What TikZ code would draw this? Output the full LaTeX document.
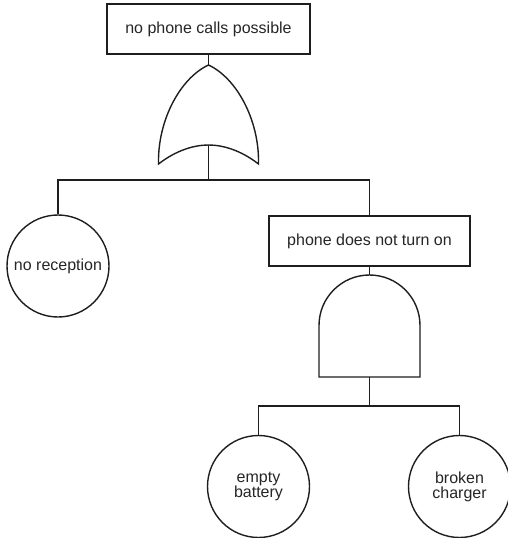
\documentclass[tikz,border=0pt]{standalone}
\usepackage{fontspec}
\setmainfont{Liberation Sans}
\definecolor{ink}{HTML}{1E1E1E}
\definecolor{txt}{HTML}{262626}
\begin{document}
\begin{tikzpicture}[x=1pt,y=-1pt,
  outline/.style={draw=ink, line width=1.4pt, fill=white},
  wire/.style={draw=ink, line width=1.6pt},
  evt/.style={outline, rectangle, minimum width=203pt, minimum height=50pt,
    inner sep=0pt, font=\fontsize{16}{15}\selectfont, text=txt},
  basic/.style={outline, circle, minimum size=102pt, inner sep=0pt,
    align=center, font=\fontsize{16}{15}\selectfont, text=txt}]
\useasboundingbox (0,0) rectangle (508,538);

% events
\node[evt] (top) at (208.5,29) {no phone calls possible};
\node[evt, minimum width=201pt] (pto) at (369.5,241) {phone does not turn on};
\node[basic] (rec) at (58,266) {no reception};
\node[basic] (bat) at (258.5,486.5) {empty\\battery};
\node[basic] (chg) at (459.5,486.5) {broken\\charger};

% OR gate
\coordinate (orTip) at (208.5,65);
\coordinate (orIn) at (208.5,145);
\coordinate (orBus) at (208.5,180);
\path[outline] (158.5,164) .. controls (157.5,120) and (180.5,78) .. (orTip)
  .. controls (236.5,78) and (259.5,120) .. (258.5,164)
  .. controls (240.5,150) and (222.5,145) .. (orIn)
  .. controls (194.5,145) and (176.5,150) .. (158.5,164) -- cycle;

% AND gate
\coordinate (andTip) at (369.5,275);
\coordinate (andIn) at (369.5,377);
\coordinate (andBus) at (369.5,406);
\path[outline] (319,377) -- (319,325.5)
  arc[start angle=180, end angle=0, radius=50.5pt] -- (420,377) -- cycle;

% connectors
\draw[wire] (top.south) -- (orTip);
\draw[wire] (orIn) -- (orBus);
\draw[wire] (rec.north) |- (orBus) -| (pto.north);
\draw[wire] (pto.south) -- (andTip);
\draw[wire] (andIn) -- (andBus);
\draw[wire] (bat.north) |- (andBus) -| (chg.north);
\end{tikzpicture}
\end{document}
